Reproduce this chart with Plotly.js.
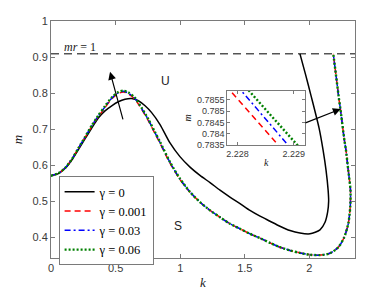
<!DOCTYPE html>
<html>
<head>
<meta charset="utf-8">
<script src="https://cdn.plot.ly/plotly-3.0.1.min.js"></script>
<style>html,body{margin:0;padding:0;background:#fff;}#chart{width:392px;height:294px;}</style>
</head>
<body>
<div id="chart"></div>
<script>
// ---- data ----
const seriesNames = ["γ = 0", "γ = 0.001", "γ = 0.03", "γ = 0.06"];

const k_g0 = [0, 0.057, 0.108, 0.16, 0.211, 0.263, 0.315, 0.366, 0.418, 0.47, 0.521, 0.573, 0.624, 0.676, 0.728, 0.779, 0.844, 0.921, 0.998, 1.076, 1.153, 1.231, 1.308, 1.385, 1.463, 1.54, 1.618, 1.695, 1.772, 1.85, 1.927, 2.005, 2.082, 2.121, 2.141, 2.149, 2.145, 2.129, 2.106, 2.075, 2.012, 1.97, 1.927];
const m_g0 = [0.571, 0.577, 0.591, 0.614, 0.643, 0.673, 0.703, 0.731, 0.751, 0.765, 0.776, 0.783, 0.785, 0.779, 0.765, 0.746, 0.713, 0.662, 0.624, 0.595, 0.572, 0.552, 0.531, 0.512, 0.494, 0.475, 0.459, 0.445, 0.431, 0.419, 0.412, 0.410, 0.421, 0.442, 0.470, 0.50, 0.531, 0.586, 0.642, 0.703, 0.794, 0.852, 0.909];

const k_g001 = [0, 0.057, 0.108, 0.16, 0.211, 0.263, 0.315, 0.366, 0.418, 0.47, 0.521, 0.56, 0.598, 0.65, 0.702, 0.753, 0.805, 0.844, 0.921, 0.998, 1.076, 1.153, 1.231, 1.308, 1.385, 1.463, 1.54, 1.618, 1.695, 1.772, 1.85, 1.927, 2.005, 2.082, 2.159, 2.224, 2.268, 2.301, 2.316, 2.318, 2.301, 2.283, 2.271, 2.240, 2.22883, 2.22777, 2.204, 2.185];
const m_g001 = [0.571, 0.578, 0.592, 0.616, 0.647, 0.677, 0.708, 0.735, 0.760, 0.784, 0.799, 0.803, 0.798, 0.783, 0.755, 0.724, 0.688, 0.661, 0.606, 0.561, 0.525, 0.498, 0.475, 0.456, 0.438, 0.424, 0.410, 0.398, 0.385, 0.373, 0.364, 0.357, 0.352, 0.351, 0.356, 0.373, 0.399, 0.438, 0.484, 0.531, 0.586, 0.642, 0.669, 0.756, 0.7832, 0.7862, 0.855, 0.909];

const k_g003 = [0, 0.057, 0.108, 0.16, 0.211, 0.263, 0.315, 0.366, 0.418, 0.47, 0.521, 0.56, 0.598, 0.65, 0.702, 0.753, 0.805, 0.844, 0.921, 0.998, 1.076, 1.153, 1.231, 1.308, 1.385, 1.463, 1.54, 1.618, 1.695, 1.772, 1.85, 1.927, 2.005, 2.082, 2.159, 2.224, 2.268, 2.301, 2.316, 2.318, 2.301, 2.283, 2.271, 2.240, 2.22900, 2.22797, 2.204, 2.185];
const m_g003 = [0.571, 0.578, 0.592, 0.616, 0.647, 0.678, 0.709, 0.737, 0.762, 0.786, 0.801, 0.805, 0.800, 0.785, 0.757, 0.726, 0.690, 0.663, 0.608, 0.562, 0.526, 0.498, 0.475, 0.456, 0.438, 0.424, 0.410, 0.398, 0.385, 0.373, 0.364, 0.357, 0.352, 0.351, 0.356, 0.373, 0.399, 0.438, 0.484, 0.531, 0.586, 0.642, 0.669, 0.756, 0.7832, 0.7862, 0.855, 0.909];

const k_g006 = [0, 0.057, 0.108, 0.16, 0.211, 0.263, 0.315, 0.366, 0.418, 0.47, 0.521, 0.56, 0.598, 0.65, 0.702, 0.753, 0.805, 0.844, 0.921, 0.998, 1.076, 1.153, 1.231, 1.308, 1.385, 1.463, 1.54, 1.618, 1.695, 1.772, 1.85, 1.927, 2.005, 2.082, 2.159, 2.224, 2.268, 2.301, 2.316, 2.318, 2.301, 2.283, 2.271, 2.240, 2.22917, 2.22810, 2.204, 2.185];
const m_g006 = [0.571, 0.578, 0.592, 0.616, 0.647, 0.678, 0.710, 0.738, 0.764, 0.788, 0.803, 0.807, 0.802, 0.787, 0.759, 0.728, 0.692, 0.665, 0.609, 0.563, 0.526, 0.498, 0.475, 0.456, 0.438, 0.424, 0.410, 0.398, 0.385, 0.373, 0.364, 0.357, 0.352, 0.351, 0.356, 0.373, 0.399, 0.438, 0.484, 0.531, 0.586, 0.642, 0.669, 0.756, 0.7832, 0.7862, 0.855, 0.909];

const mrLevel = 0.909;
const xTicks = [0, 0.5, 1, 1.5, 2];
const yTicks = [0.4, 0.5, 0.6, 0.7, 0.8, 0.9, 1];
const insetXTicks = [2.228, 2.229];
const insetYTicks = [0.7835, 0.784, 0.7845, 0.785, 0.7855];

// ---- styles ----
const colors = ["#000000", "#ff0000", "#0000ff", "#008000"];
const dashes = ["solid", "6px,4px", "6px,3px,2px,3px", "2px,2px"];
const widths = [1.5, 1.5, 1.5, 2.4];
const ks = [k_g0, k_g001, k_g003, k_g006];
const ms = [m_g0, m_g001, m_g003, m_g006];

const traces = [];
for (let i = 0; i < 4; i++) {
  traces.push({
    x: ks[i], y: ms[i], type: 'scatter', mode: 'lines', name: seriesNames[i],
    line: {color: colors[i], width: widths[i], dash: dashes[i], shape: 'spline', smoothing: 0.7},
    xaxis: 'x', yaxis: 'y', hoverinfo: 'skip'
  });
}
for (let i = 1; i < 4; i++) {
  traces.push({
    x: ks[i], y: ms[i], type: 'scatter', mode: 'lines', showlegend: false,
    line: {color: colors[i], width: widths[i], dash: dashes[i]},
    xaxis: 'x2', yaxis: 'y2', hoverinfo: 'skip'
  });
}

const axisLine = '#7a7a7a';
const tickCol = '#3a3a3a';
const layout = {
  width: 392, height: 294,
  margin: {l: 51, r: 37, t: 21, b: 36, pad: 0},
  paper_bgcolor: '#fff', plot_bgcolor: '#fff',
  showlegend: true,
  xaxis: {
    range: [0, 2.353], tickvals: xTicks, ticks: 'inside', ticklen: 4, tickcolor: axisLine,
    showline: true, linecolor: axisLine, linewidth: 1, mirror: 'ticks',
    showgrid: false, zeroline: false,
    tickfont: {family: 'Liberation Sans, Arial', size: 11, color: tickCol},
    title: {text: '<i>k</i>', font: {family: 'Liberation Serif, serif', size: 13, color: '#222'}, standoff: 4},
    domain: [0, 1], automargin: false
  },
  yaxis: {
    range: [0.343, 1], tickvals: yTicks, ticks: 'inside', ticklen: 4, tickcolor: axisLine,
    showline: true, linecolor: axisLine, linewidth: 1, mirror: 'ticks',
    showgrid: false, zeroline: false,
    tickfont: {family: 'Liberation Sans, Arial', size: 11, color: tickCol},
    title: {text: '<i>m</i>', font: {family: 'Liberation Serif, serif', size: 13, color: '#222'}, standoff: 6},
    automargin: false
  },
  xaxis2: {
    anchor: 'y2', domain: [0.58, 0.8355], range: [2.22782, 2.2292],
    tickvals: insetXTicks, ticks: 'inside', ticklen: 3, tickcolor: axisLine,
    showline: true, linecolor: axisLine, linewidth: 1, mirror: 'ticks',
    showgrid: false, zeroline: false,
    tickfont: {family: 'Liberation Sans, Arial', size: 9, color: tickCol},
    title: {text: '<i>k</i>', font: {family: 'Liberation Serif, serif', size: 10, color: '#222'}, standoff: 1},
    automargin: false
  },
  yaxis2: {
    anchor: 'x2', domain: [0.4768, 0.7059], range: [0.7835, 0.78591],
    tickvals: insetYTicks, ticks: 'inside', ticklen: 3, tickcolor: axisLine,
    showline: true, linecolor: axisLine, linewidth: 1, mirror: 'ticks',
    showgrid: false, zeroline: false,
    tickfont: {family: 'Liberation Sans, Arial', size: 9, color: tickCol},
    title: {text: '<i>m</i>', font: {family: 'Liberation Serif, serif', size: 10, color: '#222'}, standoff: 3},
    automargin: false
  },
  legend: {
    x: 0.025, y: 0.345, xanchor: 'left', yanchor: 'top',
    bgcolor: '#fff', bordercolor: '#7a7a7a', borderwidth: 1,
    font: {family: 'Liberation Serif, serif', size: 12.5, color: '#000'},
    itemwidth: 30, tracegroupgap: 0
  },
  shapes: [{
    type: 'line', xref: 'paper', yref: 'y', x0: 0, x1: 1, y0: mrLevel, y1: mrLevel,
    line: {color: '#000', width: 1, dash: '8px,5px'}
  }],
  annotations: [
    {x: 0.457, y: 0.859, ax: 0.56, ay: 0.723, xref: 'x', yref: 'y', axref: 'x', ayref: 'y',
     showarrow: true, arrowhead: 2, arrowsize: 1.3, arrowwidth: 1.2, arrowcolor: '#000', text: ''},
    {x: 2.242, y: 0.756, ax: 1.958, ay: 0.716, xref: 'x', yref: 'y', axref: 'x', ayref: 'y',
     showarrow: true, arrowhead: 2, arrowsize: 1.3, arrowwidth: 1.2, arrowcolor: '#000', text: ''},
    {x: 0.89, y: 0.834, xref: 'x', yref: 'y', showarrow: false, text: 'U',
     font: {family: 'Liberation Sans, Arial', size: 12, color: '#222'}},
    {x: 0.98, y: 0.432, xref: 'x', yref: 'y', showarrow: false, text: 'S',
     font: {family: 'Liberation Sans, Arial', size: 12, color: '#222'}},
    {x: 0.228, y: 0.927, xref: 'x', yref: 'y', showarrow: false, text: '<i>mr</i> = 1',
     font: {family: 'Liberation Serif, serif', size: 12, color: '#222'}}
  ]
};

Plotly.newPlot('chart', traces, layout, {staticPlot: true, displayModeBar: false});
</script>
</body>
</html>
